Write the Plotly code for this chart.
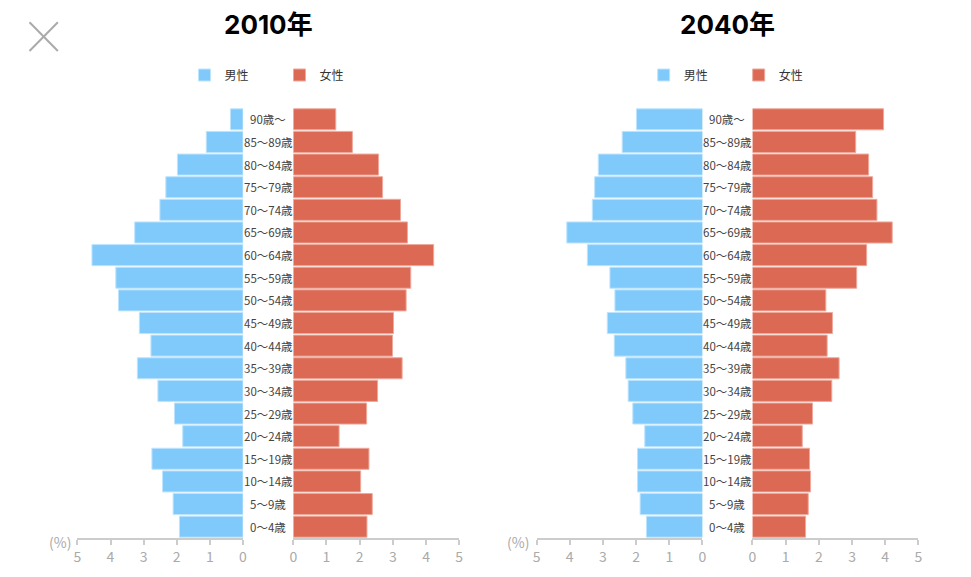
import plotly.graph_objects as go

W, H = 971, 577

ages = ["0～4歳", "5～9歳", "10～14歳", "15～19歳", "20～24歳", "25～29歳", "30～34歳",
        "35～39歳", "40～44歳", "45～49歳", "50～54歳", "55～59歳", "60～64歳", "65～69歳",
        "70～74歳", "75～79歳", "80～84歳", "85～89歳", "90歳～"]

male_2010 = [1.92, 2.11, 2.43, 2.75, 1.82, 2.07, 2.57, 3.19, 2.78, 3.13, 3.76, 3.84,
             4.56, 3.27, 2.51, 2.33, 1.98, 1.11, 0.38]
female_2010 = [2.22, 2.38, 2.03, 2.28, 1.38, 2.21, 2.54, 3.28, 2.99, 3.02, 3.40, 3.54,
               4.23, 3.44, 3.23, 2.69, 2.57, 1.78, 1.28]
male_2040 = [1.69, 1.88, 1.96, 1.96, 1.74, 2.10, 2.24, 2.31, 2.66, 2.87, 2.64, 2.79,
             3.47, 4.09, 3.32, 3.25, 3.14, 2.42, 1.99]
female_2040 = [1.60, 1.68, 1.75, 1.72, 1.50, 1.81, 2.39, 2.61, 2.25, 2.41, 2.21, 3.14,
               3.44, 4.21, 3.75, 3.62, 3.50, 3.11, 3.95]

titles = ["2010年", "2040年"]
series_names = ["男性", "女性"]
tick_vals = [0, 1, 2, 3, 4, 5]
unit_label = "(%)"

BLUE = "#80CAFB"
RED = "#DC6954"
FONT = "Noto Sans CJK JP"
TITLE_FONT = "Inter, Noto Sans CJK JP"

def px(x):
    return x / W

def py(y):
    return 1 - y / H

fig = go.Figure()

panels = [
    (male_2010, female_2010, "x", "x2", "legend"),
    (male_2040, female_2040, "x3", "x4", "legend2"),
]
for m, f, xm, xf, lg in panels:
    fig.add_trace(go.Bar(y=ages, x=m, orientation="h", name=series_names[0],
                         xaxis=xm, yaxis="y", legend=lg,
                         marker=dict(color=BLUE, line=dict(color="#BFE4FD", width=1)),
                         hoverinfo="x+y"))
    fig.add_trace(go.Bar(y=ages, x=f, orientation="h", name=series_names[1],
                         xaxis=xf, yaxis="y", legend=lg,
                         marker=dict(color=RED, line=dict(color="#EDA99C", width=1)),
                         hoverinfo="x+y"))

def xa(domain, rng):
    return dict(domain=domain, range=rng, anchor="y", showgrid=False, zeroline=False,
                showline=True, linecolor="#cccccc", linewidth=2,
                ticks="outside", ticklen=5, tickcolor="#cccccc", tickwidth=1.5,
                tickvals=tick_vals, ticktext=[str(v) for v in tick_vals],
                tickfont=dict(family=FONT, size=14, color="#aaaaaa"), fixedrange=True)

fig.update_layout(
    width=W, height=H,
    margin=dict(l=0, r=0, t=0, b=0),
    paper_bgcolor="white", plot_bgcolor="white",
    barmode="overlay", bargap=0.07,
    font=dict(family=FONT, color="#333333"),
    xaxis=xa([px(74), px(241)], [5, 0]),
    xaxis2=xa([px(291.7), px(459)], [0, 5]),
    xaxis3=xa([px(537), px(704.3)], [5, 0]),
    xaxis4=xa([px(754.7), px(922)], [0, 5]),
    yaxis=dict(domain=[py(538), py(108)], range=[-0.5, 18.5], visible=False,
               type="category", categoryarray=ages, fixedrange=True),
    legend=dict(orientation="h", x=px(182), y=py(75), xanchor="left", yanchor="middle",
                font=dict(family=FONT, size=12, color="#333333"),
                entrywidth=50, entrywidthmode="pixels", bgcolor="rgba(0,0,0,0)"),
    legend2=dict(orientation="h", x=px(645), y=py(75), xanchor="left", yanchor="middle",
                 font=dict(family=FONT, size=12, color="#333333"),
                 entrywidth=50, entrywidthmode="pixels", bgcolor="rgba(0,0,0,0)"),
    showlegend=True,
)

annotations = []
for cx, t in zip([266.4, 729.5], titles):
    annotations.append(dict(x=px(cx), y=py(25), xref="paper", yref="paper", text=f"<b>{t}</b>",
                            showarrow=False, font=dict(family=TITLE_FONT, size=26, color="#000000"),
                            xanchor="center", yanchor="middle"))
for cx in [266.4, 729.5]:
    for a in ages:
        annotations.append(dict(x=px(cx), y=a, xref="paper", yref="y", text=a, showarrow=False,
                                font=dict(family=FONT, size=11.5, color="#444444"),
                                xanchor="center", yanchor="middle"))
for cx in [56, 518]:
    annotations.append(dict(x=px(cx), y=py(542), xref="paper", yref="paper", text=unit_label,
                            showarrow=False, font=dict(family=FONT, size=14, color="#aaaaaa"),
                            xanchor="center", yanchor="middle"))
fig.update_layout(annotations=annotations)

# close icon
for (x0, y0, x1, y1) in [(25.7, 22.3, 54.3, 51), (25.7, 51, 54.3, 22.3)]:
    fig.add_shape(type="line", xref="paper", yref="paper",
                  x0=px(x0), y0=py(y0), x1=px(x1), y1=py(y1),
                  line=dict(color="#aaaaaa", width=2))

fig.write_html("out.html", config={"displayModeBar": False},
               post_script="document.body.style.margin='0';document.body.style.overflow='hidden';")
